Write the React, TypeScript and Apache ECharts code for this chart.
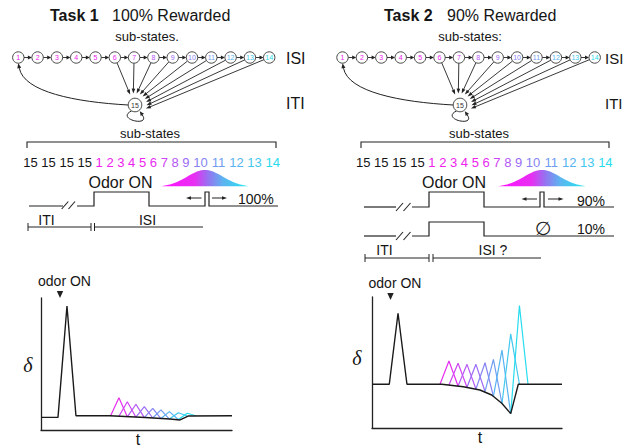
import React, { useEffect, useRef } from "react";
import * as echarts from "echarts";

const SANS = "'Liberation Sans', Arial, Helvetica, sans-serif";
const SERIF = "'Liberation Serif', 'DejaVu Serif', serif";

// ---- data ----
const subStates = ["1", "2", "3", "4", "5", "6", "7", "8", "9", "10", "11", "12", "13", "14"];
const subStateColors = [
  "#ee22ee", "#ee22ee", "#ee22ee", "#ee22ee", "#ee22ee", "#e62ef0", "#cf44f2",
  "#b458f5", "#9b6cf5", "#8684f2", "#709cf2", "#58b4f0", "#42c8ee", "#28dcee",
];
const itiState = "15";
const itiRepeats = ["15", "15", "15", "15"];
const triColors = subStateColors.slice(5);

// Task 1 prediction-error trace
const leftLineX = [0, 8.9, 13.6, 18.3, 36.1, 54.5, 67.5, 72.8, 77.0, 100];
const leftLineY = [9.6, 9.6, 93.9, 10.8, 10.8, 9.5, 8.3, 7.6, 10.6, 10.8];
const leftTriX = [36.4, 40.8, 45.2, 49.7, 54.1, 58.5, 62.8, 67.2, 71.9, 76.6, 81.0];
const leftTriBaseY = [10.6, 10.4, 10.0, 9.7, 9.4, 9.1, 8.7, 8.3, 8.0, 10.6, 10.8];
const leftTriPeakY = [24.5, 21.4, 19.5, 17.7, 16.4, 15.2, 13.9, 13.1, 12.7];

// Task 2 prediction-error trace
const rightLineX = [0, 9.1, 13.7, 18.4, 36.7, 48.1, 56.8, 63.0, 68.3, 73.0, 77.0, 100];
const rightLineY = [33.4, 33.4, 87.6, 33.4, 33.4, 31.5, 29.0, 25.2, 18.9, 11.0, 33.4, 33.4];
const rightTriX = [35.8, 40.5, 45.3, 50.0, 54.7, 59.5, 63.9, 68.4, 73.0, 77.6, 82.1];
const rightTriBaseY = [33.4, 32.8, 32.1, 31.1, 29.8, 27.9, 24.1, 18.7, 11.0, 33.4, 33.4];
const rightTriPeakY = [51.1, 49.4, 48.6, 48.6, 49.8, 52.4, 59.5, 71.8, 93.4];

type Pt = [number, number];

function txt(x: number, y: number, text: string, size: number, o: any = {}) {
  const align = o.align || "center";
  return {
    type: "text",
    x,
    y,
    silent: true,
    style: {
      text,
      fontSize: size,
      fontFamily: o.family || SANS,
      fontWeight: o.bold ? "bold" : "normal",
      fontStyle: o.italic ? "italic" : "normal",
      fill: o.fill || "#151515",
      align,
      textAlign: align,
      verticalAlign: "middle",
      textVerticalAlign: "middle",
    },
  };
}
function ln(x1: number, y1: number, x2: number, y2: number, w = 1.1, c = "#222") {
  return { type: "line", silent: true, shape: { x1, y1, x2, y2 }, style: { stroke: c, lineWidth: w } };
}
function pl(points: Pt[], w = 1.2, c = "#222") {
  return { type: "polyline", silent: true, shape: { points }, style: { stroke: c, lineWidth: w, fill: null } };
}
function head(tip: Pt, dir: Pt, len = 5, half = 2, c = "#222") {
  const n = Math.hypot(dir[0], dir[1]);
  const ux = dir[0] / n, uy = dir[1] / n;
  const bx = tip[0] - ux * len, by = tip[1] - uy * len;
  return {
    type: "polygon",
    silent: true,
    shape: { points: [tip, [bx - uy * half, by + ux * half], [bx + uy * half, by - ux * half]] },
    style: { fill: c },
  };
}

function stateDiagram(x1: number, sp: number, c15: Pt, els: any[]) {
  const cy = 57.5, r = 5.7, r15 = 6.8;
  const cxs = subStates.map((_, i) => x1 + i * sp);
  for (let i = 0; i < cxs.length - 1; i++) {
    const a = cxs[i] + r, b = cxs[i + 1] - r;
    els.push(ln(a, cy, b - 3.5, cy, 0.9));
    els.push(head([b, cy], [1, 0], 4, 2));
  }
  for (let k = 5; k < 14; k++) {
    const t = (k - 5) / 8;
    const ang = ((-115 + t * 133) * Math.PI) / 180;
    const E: Pt = [c15[0] + 11.5 * Math.cos(ang), c15[1] + 11.5 * Math.sin(ang)];
    const dx = E[0] - cxs[k], dy = E[1] - cy;
    const n = Math.hypot(dx, dy);
    const ux = dx / n, uy = dy / n;
    els.push(ln(cxs[k] + ux * r, cy + uy * r, E[0] - ux * 4, E[1] - uy * 4, 0.9));
    els.push(head(E, [dx, dy], 5, 1.8));
  }
  // curve 15 -> 1
  const end1: Pt = [x1 + 1, 68.2];
  els.push({
    type: "bezierCurve",
    silent: true,
    shape: { x1: c15[0] - r15, y1: c15[1], cpx1: c15[0] - 60, cpy1: c15[1] - 3, cpx2: x1 + 5.7, cpy2: 92, x2: end1[0], y2: end1[1] },
    style: { stroke: "#222", lineWidth: 1, fill: null },
  });
  els.push(head([x1, cy + r], [-4.7, -24], 5, 2));
  // self loop
  const p0: Pt = [c15[0] - 3.4, c15[1] + 5.9];
  const p1: Pt = [c15[0] - 20, c15[1] + 14];
  const p2: Pt = [c15[0] + 16, c15[1] + 22.5];
  const p3: Pt = [c15[0] + 7.3, c15[1] + 10];
  els.push({
    type: "bezierCurve",
    silent: true,
    shape: { x1: p0[0], y1: p0[1], cpx1: p1[0], cpy1: p1[1], cpx2: p2[0], cpy2: p2[1], x2: p3[0], y2: p3[1] },
    style: { stroke: "#222", lineWidth: 1, fill: null },
  });
  els.push(head([p3[0] - 2.5, p3[1] - 3.8], [p3[0] - p2[0], p3[1] - p2[1]], 4.5, 2));
  cxs.forEach((cx, i) => {
    els.push({ type: "circle", silent: true, shape: { cx, cy, r }, style: { fill: "#fff", stroke: "#333", lineWidth: 0.9 } });
    els.push(txt(cx, cy + 0.3, subStates[i], 7, { fill: subStateColors[i] }));
  });
  els.push({ type: "circle", silent: true, shape: { cx: c15[0], cy: c15[1], r: r15 }, style: { fill: "#fff", stroke: "#333", lineWidth: 0.9 } });
  els.push(txt(c15[0], c15[1] + 0.3, itiState, 7, { fill: "#333" }));
}

function numberRow(x0: number, y: number, els: any[]) {
  const fs = 13, dw = 0.556 * fs, sw = 0.278 * fs;
  let x = x0;
  const toks = [
    ...itiRepeats.map((t) => ({ t, c: "#151515" })),
    ...subStates.map((t, i) => ({ t, c: subStateColors[i] })),
  ];
  toks.forEach((tk) => {
    const w = tk.t.length * dw;
    els.push(txt(x + w / 2, y, tk.t, fs, { fill: tk.c }));
    x += w + sw;
  });
}

function bump(cx: number, half: number, base: number, h: number, els: any[]) {
  const pts: Pt[] = [];
  const n = 48, sigma = 18;
  for (let i = 0; i <= n; i++) {
    const x = cx - half + (2 * half * i) / n;
    const u = (x - cx) / sigma;
    pts.push([x, base - h * Math.exp((-u * u) / 2)]);
  }
  els.push({
    type: "polygon",
    silent: true,
    shape: { points: pts },
    style: {
      fill: {
        type: "linear", x: 0, y: 0, x2: 1, y2: 0,
        colorStops: [
          { offset: 0, color: "#ff10ff" },
          { offset: 0.38, color: "#e82ef2" },
          { offset: 0.54, color: "#9474f0" },
          { offset: 0.7, color: "#5eb2f0" },
          { offset: 1, color: "#20e8f0" },
        ],
      },
    },
  });
}

function triSeries(xs: number[], base: number[], peak: number[], gi: number) {
  return peak.map((p, i) => ({
    type: "line",
    xAxisIndex: gi,
    yAxisIndex: gi,
    symbol: "none",
    silent: true,
    z: 2,
    lineStyle: { color: triColors[i], width: 1.2 },
    data: [
      [xs[i], base[i]],
      [xs[i + 1], p],
      [xs[i + 2], base[i + 2]],
    ],
  }));
}

function buildGraphics() {
  const els: any[] = [];
  // titles
  els.push(txt(50, 15, "Task 1", 16, { bold: true, align: "left" }));
  els.push(txt(112, 15, "100% Rewarded", 16, { align: "left" }));
  els.push(txt(384, 15, "Task 2", 16, { bold: true, align: "left" }));
  els.push(txt(447, 15, "90% Rewarded", 16, { align: "left" }));
  els.push(txt(147, 36, "sub-states.", 13));
  els.push(txt(470, 36, "sub-states:", 13));
  els.push(txt(286, 58, "ISI", 16, { align: "left" }));
  els.push(txt(286, 103, "ITI", 16, { align: "left" }));
  els.push(txt(605, 58, "ISI", 15, { align: "left" }));
  els.push(txt(605, 103, "ITI", 15, { align: "left" }));

  stateDiagram(18.3, 19.3, [135, 105], els);
  stateDiagram(342.5, 19.4, [460, 105], els);

  // brackets
  els.push(pl([[27, 148], [27, 142], [276, 142], [276, 148]], 1.1));
  els.push(pl([[361, 148], [361, 142], [609, 142], [609, 148]], 1.1));
  els.push(txt(150, 133, "sub-states", 13));
  els.push(txt(479, 133, "sub-states", 13));
  numberRow(23.3, 162, els);
  numberRow(356, 162, els);

  bump(205, 44, 187, 17, els);
  bump(542, 44, 187, 17, els);
  els.push(txt(120.5, 182, "Odor ON", 16));
  els.push(txt(454, 182, "Odor ON", 16));

  // Task 1 timeline
  els.push(ln(29, 206, 63, 206, 1.2));
  els.push(ln(61.7, 209, 68.3, 201.5, 1.1));
  els.push(ln(68.5, 209, 75, 201.5, 1.1));
  els.push(pl([[77, 206], [94, 206], [94, 192], [149, 192], [149, 206], [205, 206], [205, 192], [209, 192], [209, 206], [278, 206]], 1.2));
  els.push(ln(201.5, 198, 190, 198, 1));
  els.push(head([186, 198], [-1, 0], 5, 1.8));
  els.push(ln(212, 198, 223, 198, 1));
  els.push(head([227, 198], [1, 0], 5, 1.8));
  els.push(txt(238, 198.5, "100%", 14, { align: "left" }));
  els.push(ln(28, 227, 91, 227, 1));
  els.push(ln(28, 223, 28, 231, 1));
  els.push(ln(91, 223, 91, 231, 1));
  els.push(ln(94.5, 223, 94.5, 231, 1));
  els.push(ln(94.5, 227, 203, 227, 1));
  els.push(txt(46.5, 219.5, "ITI", 14));
  els.push(txt(147.5, 219.5, "ISI", 14));

  // Task 2 timelines
  els.push(ln(364, 207, 396, 207, 1.2));
  els.push(ln(396, 211, 403, 203, 1.1));
  els.push(ln(403.5, 211, 410.5, 203, 1.1));
  els.push(pl([[412, 207], [429, 207], [429, 192], [484, 192], [484, 207], [540, 207], [540, 192], [544, 192], [544, 207], [614, 207]], 1.2));
  els.push(ln(537, 199, 525.5, 199, 1));
  els.push(head([521.5, 199], [-1, 0], 5, 1.8));
  els.push(ln(548, 199, 559.5, 199, 1));
  els.push(head([563.5, 199], [1, 0], 5, 1.8));
  els.push(txt(577, 200.5, "90%", 14, { align: "left" }));
  els.push(ln(364, 236, 396, 236, 1.2));
  els.push(ln(396, 240, 403, 232, 1.1));
  els.push(ln(403.5, 240, 410.5, 232, 1.1));
  els.push(pl([[412, 236], [429, 236], [429, 222], [484, 222], [484, 236], [614, 236]], 1.2));
  els.push(txt(543, 228, "∅", 19, { family: "'DejaVu Sans', sans-serif", fill: "#222" }));
  els.push(txt(577, 228.5, "10%", 14, { align: "left" }));
  els.push(ln(365, 258, 429, 258, 1));
  els.push(ln(365, 254, 365, 262, 1));
  els.push(ln(429, 254, 429, 262, 1));
  els.push(ln(433, 254, 433, 262, 1));
  els.push(ln(433, 258, 541, 258, 1));
  els.push(txt(384.5, 250, "ITI", 14));
  els.push(txt(493, 250, "ISI ?", 14));

  // bottom plots labels
  els.push(txt(64.5, 281, "odor ON", 14));
  els.push(head([60, 298], [0, 1], 7, 3.2));
  els.push(txt(395, 283, "odor ON", 14));
  els.push(head([390.5, 300], [0, 1], 7, 3.2));
  els.push(txt(28, 365, "δ", 20, { family: SERIF, italic: true }));
  els.push(txt(357, 358, "δ", 20, { family: SERIF, italic: true }));
  els.push(txt(138, 439, "t", 16));
  els.push(txt(480, 437, "t", 16));
  return els;
}

function axisPair(gi: number) {
  return {
    gridIndex: gi,
    type: "value",
    min: 0,
    max: 100,
    axisLine: { show: true, onZero: false, lineStyle: { color: "#222", width: 1.3 } },
    axisTick: { show: false },
    axisLabel: { show: false },
    splitLine: { show: false },
  };
}

export default function App() {
  const ref = useRef<HTMLDivElement>(null);
  useEffect(() => {
    document.body.style.margin = "0";
    const chart = echarts.init(ref.current!, null, { renderer: "svg" });
    const blackLine = (xs: number[], ys: number[], gi: number) => ({
      type: "line",
      xAxisIndex: gi,
      yAxisIndex: gi,
      symbol: "none",
      silent: true,
      z: 3,
      lineStyle: { color: "#1a1a1a", width: 1.4 },
      data: xs.map((x, i) => [x, ys[i]]),
    });
    chart.setOption({
      animation: false,
      backgroundColor: "#ffffff",
      grid: [
        { left: 41, top: 298, width: 191, height: 132 },
        { left: 372, top: 297, width: 190, height: 131 },
      ],
      xAxis: [axisPair(0), axisPair(1)],
      yAxis: [axisPair(0), axisPair(1)],
      series: [
        ...triSeries(leftTriX, leftTriBaseY, leftTriPeakY, 0),
        ...triSeries(rightTriX, rightTriBaseY, rightTriPeakY, 1),
        blackLine(leftLineX, leftLineY, 0),
        blackLine(rightLineX, rightLineY, 1),
      ],
      graphic: { elements: buildGraphics() },
    });
    return () => chart.dispose();
  }, []);
  return <div ref={ref} style={{ position: "absolute", left: 0, top: 0, width: 624, height: 448 }} />;
}
